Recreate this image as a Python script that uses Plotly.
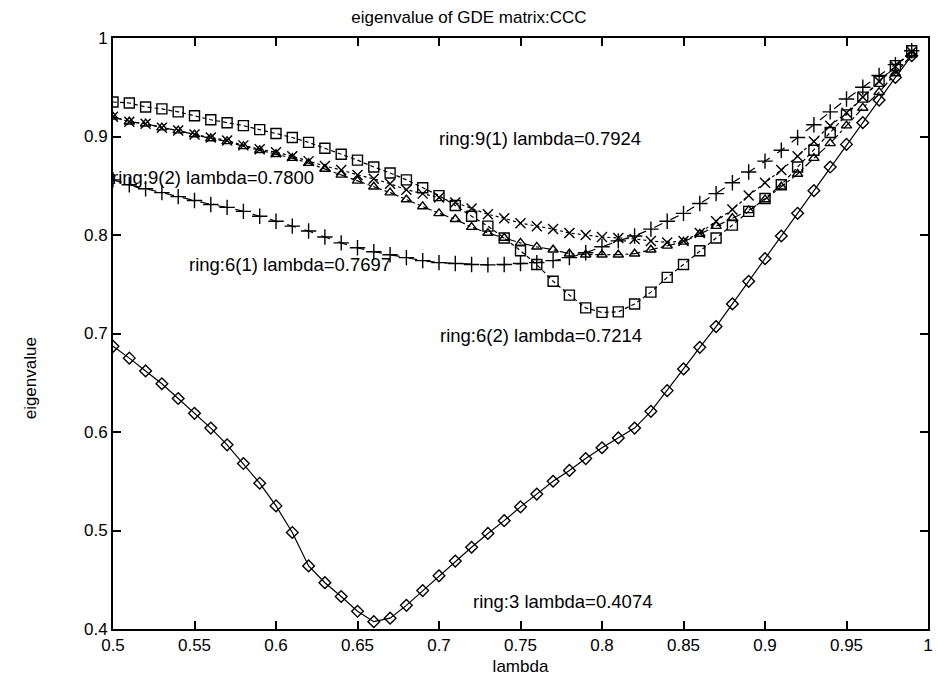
import plotly.graph_objects as go

lam = [0.50, 0.51, 0.52, 0.53, 0.54, 0.55, 0.56, 0.57, 0.58, 0.59,
       0.60, 0.61, 0.62, 0.63, 0.64, 0.65, 0.66, 0.67, 0.68, 0.69,
       0.70, 0.71, 0.72, 0.73, 0.74, 0.75, 0.76, 0.77, 0.78, 0.79,
       0.80, 0.81, 0.82, 0.83, 0.84, 0.85, 0.86, 0.87, 0.88, 0.89,
       0.90, 0.91, 0.92, 0.93, 0.94, 0.95, 0.96, 0.97, 0.98, 0.99]

ring3 = [0.687, 0.675, 0.662, 0.649, 0.634, 0.619, 0.604, 0.587, 0.568, 0.548,
         0.525, 0.498, 0.464, 0.447, 0.433, 0.418, 0.4074, 0.411, 0.424, 0.439,
         0.454, 0.469, 0.483, 0.497, 0.510, 0.524, 0.537, 0.550, 0.561, 0.573,
         0.584, 0.594, 0.604, 0.621, 0.642, 0.664, 0.686, 0.707, 0.730, 0.753,
         0.776, 0.799, 0.822, 0.845, 0.869, 0.892, 0.914, 0.937, 0.960, 0.982]

ring6_2 = [0.935, 0.934, 0.930, 0.928, 0.925, 0.921, 0.917, 0.914, 0.911, 0.907,
           0.903, 0.899, 0.894, 0.888, 0.882, 0.876, 0.869, 0.863, 0.856, 0.848,
           0.840, 0.830, 0.819, 0.809, 0.797, 0.784, 0.770, 0.753, 0.739, 0.726,
           0.7214, 0.722, 0.730, 0.742, 0.757, 0.770, 0.784, 0.797, 0.810, 0.824,
           0.837, 0.851, 0.869, 0.886, 0.904, 0.922, 0.940, 0.956, 0.972, 0.987]

ring9_1 = [0.920, 0.915, 0.913, 0.909, 0.906, 0.902, 0.899, 0.896, 0.891, 0.887,
           0.884, 0.880, 0.875, 0.870, 0.866, 0.861, 0.857, 0.852, 0.846, 0.842,
           0.838, 0.833, 0.827, 0.821, 0.817, 0.812, 0.809, 0.806, 0.802, 0.800,
           0.798, 0.797, 0.796, 0.794, 0.7924, 0.794, 0.802, 0.814, 0.826, 0.840,
           0.853, 0.866, 0.880, 0.895, 0.911, 0.924, 0.940, 0.956, 0.971, 0.986]

ring9_2 = [0.920, 0.915, 0.913, 0.909, 0.906, 0.902, 0.898, 0.895, 0.890, 0.886,
           0.882, 0.878, 0.873, 0.867, 0.861, 0.855, 0.849, 0.843, 0.836, 0.829,
           0.822, 0.816, 0.808, 0.802, 0.797, 0.792, 0.788, 0.785, 0.781, 0.780,
           0.780, 0.780, 0.781, 0.785, 0.789, 0.793, 0.801, 0.809, 0.817, 0.825,
           0.836, 0.849, 0.862, 0.878, 0.893, 0.911, 0.929, 0.945, 0.964, 0.983]

ring6_1 = [0.856, 0.851, 0.847, 0.843, 0.839, 0.835, 0.831, 0.828, 0.824, 0.819,
           0.814, 0.809, 0.804, 0.798, 0.792, 0.787, 0.783, 0.780, 0.777, 0.774,
           0.772, 0.771, 0.770, 0.7697, 0.770, 0.771, 0.772, 0.774, 0.777, 0.782,
           0.788, 0.794, 0.799, 0.806, 0.814, 0.822, 0.832, 0.842, 0.853, 0.864,
           0.875, 0.886, 0.899, 0.912, 0.925, 0.938, 0.950, 0.962, 0.973, 0.987]

labels = ["ring:9(1) lambda=0.7924", "ring:9(2) lambda=0.7800",
          "ring:6(1) lambda=0.7697", "ring:6(2) lambda=0.7214",
          "ring:3 lambda=0.4074"]
label_x = [0.762, 0.5616, 0.6085, 0.7624, 0.7756]
label_y = [0.898, 0.858, 0.770, 0.698, 0.428]

FONT = "Liberation Sans, Arial, Helvetica, sans-serif"

fig = go.Figure()

series = [
    (ring3, "diamond-open", "solid", 9),
    (ring6_1, "cross-thin-open", "dash", 11),
    (ring6_2, "square-open", "4px,3px", 10),
    (ring9_2, "triangle-up-open", "dashdot", 9),
    (ring9_1, "x-thin-open", "dot", 10),
]
for ys, sym, dash, sz in series:
    fig.add_trace(go.Scatter(
        x=lam, y=ys, mode="lines+markers",
        line=dict(color="black", width=1.2, dash=dash),
        marker=dict(symbol=sym, size=sz, color="black",
                    line=dict(color="black", width=1.4)),
        showlegend=False, hoverinfo="skip"))

for t, xx, yy in zip(labels, label_x, label_y):
    fig.add_annotation(x=xx, y=yy, text=t, showarrow=False,
                       font=dict(family=FONT, size=18.5, color="black"),
                       xanchor="center", yanchor="middle")

# y axis title placed as annotation (sits below the axis centre in the reference)
fig.add_annotation(x=-(113 - 30) / 820, xref="paper", y=0.654, yref="y",
                   text="eigenvalue", textangle=-90, showarrow=False,
                   font=dict(family=FONT, size=17, color="black"),
                   xanchor="center", yanchor="middle")

axis_common = dict(
    showline=True, linecolor="black", linewidth=2, mirror="ticks",
    ticks="inside", ticklen=8, tickwidth=1.5, tickcolor="black",
    showgrid=False, zeroline=False,
    tickfont=dict(family=FONT, size=17, color="black"),
)

fig.update_xaxes(range=[0.5, 1.0], dtick=0.05, tick0=0.5,
                 title=dict(text="lambda", standoff=6,
                            font=dict(family=FONT, size=17, color="black")),
                 **axis_common)
fig.update_yaxes(range=[0.4, 1.0], dtick=0.1, tick0=0.4, **axis_common)

fig.update_layout(
    width=938, height=682,
    margin=dict(l=113, r=5, t=38, b=53),
    plot_bgcolor="white", paper_bgcolor="white",
    title=dict(text="eigenvalue of GDE matrix:CCC", x=0.5, xanchor="center",
               y=1 - 17 / 682, yanchor="middle", yref="container",
               font=dict(family=FONT, size=17, color="black")),
)

fig.write_html("out.html")
